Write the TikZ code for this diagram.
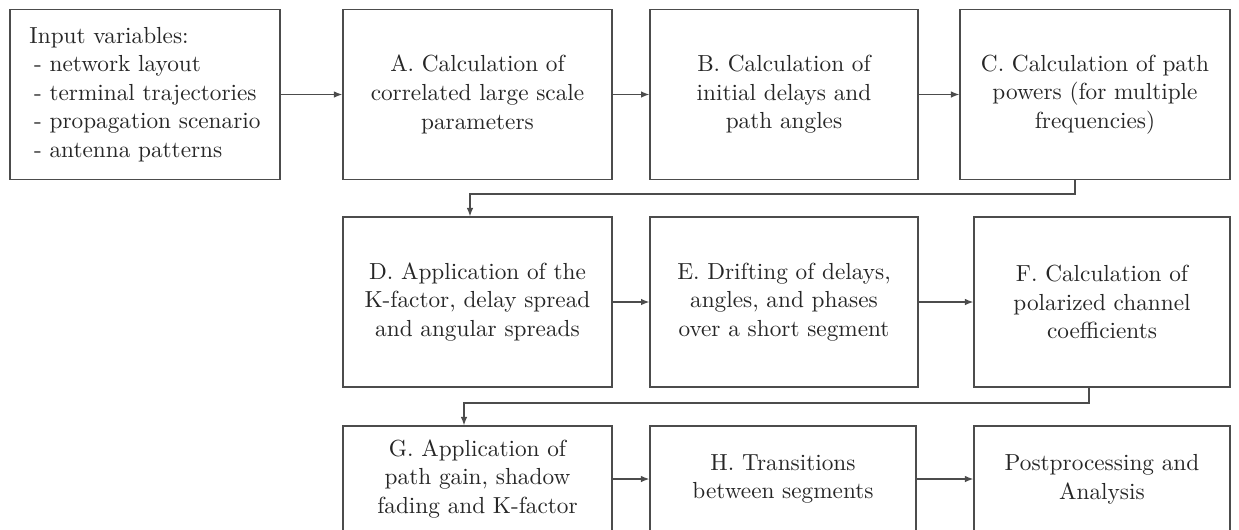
\documentclass[tikz,border=0pt]{standalone}
\usetikzlibrary{arrows.meta}
\begin{document}
\begin{tikzpicture}[x=0.43pt,y=-0.43pt,
  stepbox/.style={draw=black!70,line width=0.55pt,inner sep=0pt,align=center,
    text=black!85,font=\fontsize{10}{12.3}\selectfont},
  arr/.style={draw=black!70,line width=0.55pt,-{Latex[length=3.6pt,width=2.8pt]}}]
\useasboundingbox (0,0) rectangle (1239,529);
\node[stepbox,align=left,minimum width=116.1pt,minimum height=73.1pt] (in) at (145,94.5)
  {Input variables:\\\hspace{2pt}- network layout\\\hspace{2pt}- terminal trajectories\\\hspace{2pt}- propagation scenario\\\hspace{2pt}- antenna patterns};
\node[stepbox,minimum width=115.7pt,minimum height=73.1pt] (A) at (477.5,94.5)
  {A. Calculation of\\correlated large scale\\parameters};
\node[stepbox,minimum width=115.2pt,minimum height=73.1pt] (B) at (784,94.5)
  {B. Calculation of\\initial delays and\\path angles};
\node[stepbox,minimum width=116.1pt,minimum height=73.1pt] (C) at (1095,94.5)
  {C. Calculation of path\\powers (for multiple\\frequencies)};
\node[stepbox,minimum width=115.7pt,minimum height=73.1pt] (D) at (477.5,302)
  {D. Application of the\\K-factor, delay spread\\and angular spreads};
\node[stepbox,minimum width=115.2pt,minimum height=73.1pt] (E) at (784,302)
  {E. Drifting of delays,\\angles, and phases\\over a short segment};
\node[stepbox,minimum width=110.1pt,minimum height=73.1pt] (F) at (1102,302)
  {F. Calculation of\\polarized channel\\coefficients};
\node[stepbox,minimum width=115.7pt,minimum height=45.6pt] (G) at (477.5,479)
  {G. Application of\\path gain, shadow\\fading and K-factor};
\node[stepbox,minimum width=114.4pt,minimum height=45.6pt] (H) at (783,479)
  {H. Transitions\\between segments};
\node[stepbox,minimum width=110.1pt,minimum height=45.6pt] (P) at (1102,479)
  {Postprocessing and\\Analysis};
\coordinate (cd) at (470,194);
\coordinate (fg) at (464,403);
\draw[arr] (in.east) -- (A.west);
\draw[arr] (A.east) -- (B.west);
\draw[arr] (B.east) -- (C.west);
\draw[arr] ([xshift=-8.6pt]C.south) |- (cd) -- (cd |- D.north);
\draw[arr] (D.east) -- (E.west);
\draw[arr] (E.east) -- (F.west);
\draw[arr] ([xshift=-5.6pt]F.south) |- (fg) -- (fg |- G.north);
\draw[arr] (G.east) -- (H.west);
\draw[arr] (H.east) -- (P.west);
\end{tikzpicture}
\end{document}
